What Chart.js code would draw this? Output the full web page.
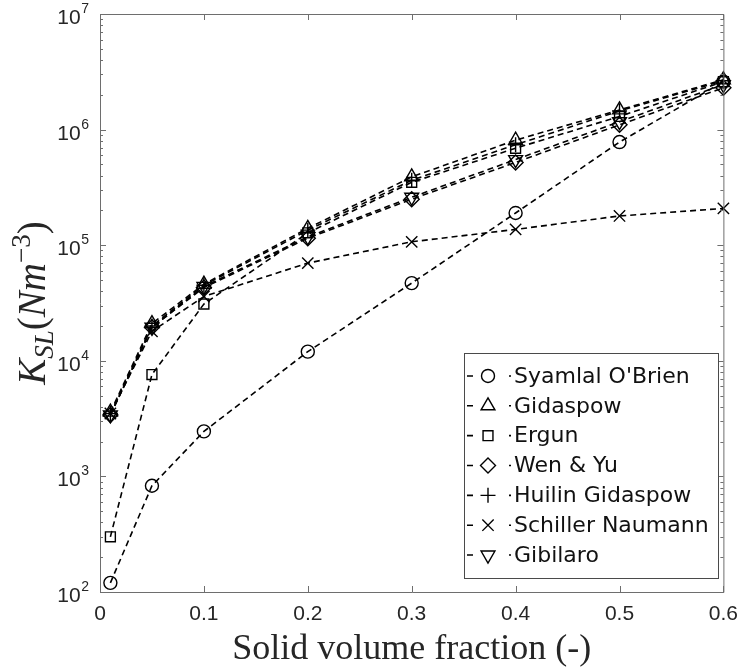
<!DOCTYPE html>
<html><head><meta charset="utf-8">
<script src="https://cdn.jsdelivr.net/npm/chart.js@4/dist/chart.umd.min.js"></script>
<style>html,body{margin:0;padding:0;background:#fff}#wrap{width:748px;height:672px;position:relative}</style>
</head><body><div id="wrap"><canvas id="c" width="748" height="672"></canvas></div>
<script>
// ---- data ----
const fractions = [0.01, 0.05, 0.1, 0.2, 0.3, 0.4, 0.5, 0.6];
const syamlalOBrien   = [120, 830, 2450, 12000, 47000, 190000, 780000, 2600000];
const gidaspow        = [3600, 21000, 46000, 140000, 390000, 810000, 1480000, 2700000];
const ergun           = [300, 7600, 31000, 128000, 350000, 690000, 1300000, 2600000];
const wenYu           = [3400, 19500, 43000, 115000, 250000, 520000, 1100000, 2300000];
const huilinGidaspow  = [3500, 20000, 45000, 135000, 365000, 740000, 1450000, 2650000];
const schillerNaumann = [3500, 18000, 36000, 70000, 107000, 137000, 179000, 208000];
const gibilaro        = [3400, 19500, 44000, 118000, 260000, 550000, 1170000, 2450000];
const seriesNames = ["Syamlal O'Brien", "Gidaspow", "Ergun", "Wen & Yu", "Huilin Gidaspow", "Schiller Naumann", "Gibilaro"];
const xTickValues = [0, 0.1, 0.2, 0.3, 0.4, 0.5, 0.6];
const xTickLabels = ["0", "0.1", "0.2", "0.3", "0.4", "0.5", "0.6"];
const yTickExponents = [2, 3, 4, 5, 6, 7];
const xTitle = "Solid volume fraction (-)";

// ---- styles ----
const seriesValues = [syamlalOBrien, gidaspow, ergun, wenYu, huilinGidaspow, schillerNaumann, gibilaro];
const markerStyles = [
  {pointStyle: 'circle', radius: 6.5, rotation: 0},
  {pointStyle: 'triangle', radius: 8, rotation: 0},
  {pointStyle: 'rect', radius: 7, rotation: 0},
  {pointStyle: 'rectRot', radius: 7.5, rotation: 0},
  {pointStyle: 'cross', radius: 7.5, rotation: 0},
  {pointStyle: 'crossRot', radius: 8, rotation: 0},
  {pointStyle: 'triangle', radius: 8, rotation: 180}
];
const AXIS = '#6e6e6e';
const TXT = '#262626';

const datasets = seriesValues.map((vals, i) => ({
  label: seriesNames[i],
  data: fractions.map((x, j) => ({x: x, y: vals[j]})),
  borderColor: '#000',
  borderWidth: 1.6,
  borderDash: [6, 4],
  pointStyle: markerStyles[i].pointStyle,
  pointRadius: markerStyles[i].radius,
  pointRotation: markerStyles[i].rotation,
  pointBorderWidth: 1.4,
  pointBorderColor: '#000',
  pointBackgroundColor: 'rgba(0,0,0,0)',
  fill: false,
  tension: 0,
  clip: false
}));

function drawMarker(ctx, st, x, y) {
  ctx.save();
  ctx.strokeStyle = '#000';
  ctx.fillStyle = 'rgba(0,0,0,0)';
  ctx.lineWidth = 1.4;
  ctx.setLineDash([]);
  Chart.helpers.drawPoint(ctx, {pointStyle: st.pointStyle, rotation: st.rotation, radius: st.radius, borderWidth: 1.4}, x, y);
  ctx.restore();
}

const matlabAxes = {
  id: 'matlabAxes',
  afterDraw(chart) {
    const ctx = chart.ctx;
    const a = chart.chartArea;
    const xs = chart.scales.x, ys = chart.scales.y;
    ctx.save();
    // box
    ctx.strokeStyle = AXIS;
    ctx.lineWidth = 1;
    ctx.beginPath();
    ctx.moveTo(a.left + 0.5, a.bottom + 0.5);
    ctx.lineTo(a.left + 0.5, a.top + 0.5);
    ctx.lineTo(a.right + 0.5, a.top + 0.5);
    ctx.lineTo(a.right + 0.5, a.bottom + 0.5);
    ctx.lineTo(a.left + 0.5, a.bottom + 0.5);
    ctx.stroke();
    // x ticks (inside, bottom and top)
    ctx.beginPath();
    xTickValues.forEach(v => {
      const px = Math.round(xs.getPixelForValue(v)) + 0.5;
      ctx.moveTo(px, a.bottom); ctx.lineTo(px, a.bottom - 6);
      ctx.moveTo(px, a.top); ctx.lineTo(px, a.top + 6);
    });
    // y major + minor ticks
    yTickExponents.forEach((e, k) => {
      const py = Math.round(ys.getPixelForValue(Math.pow(10, e))) + 0.5;
      ctx.moveTo(a.left, py); ctx.lineTo(a.left + 6, py);
      ctx.moveTo(a.right, py); ctx.lineTo(a.right - 6, py);
      if (k < yTickExponents.length - 1) {
        for (let m = 2; m <= 9; m++) {
          const pm = Math.round(ys.getPixelForValue(m * Math.pow(10, e))) + 0.5;
          ctx.moveTo(a.left, pm); ctx.lineTo(a.left + 3, pm);
          ctx.moveTo(a.right, pm); ctx.lineTo(a.right - 3, pm);
        }
      }
    });
    ctx.stroke();
    // y tick labels 10^e
    ctx.fillStyle = TXT;
    yTickExponents.forEach(e => {
      const py = ys.getPixelForValue(Math.pow(10, e));
      const expTxt = String(e);
      ctx.font = '14px "Liberation Sans", Arial, sans-serif';
      const wE = ctx.measureText(expTxt).width;
      ctx.font = '21px "Liberation Sans", Arial, sans-serif';
      const wB = ctx.measureText('10').width;
      const right = 89;
      ctx.textBaseline = 'alphabetic';
      ctx.textAlign = 'left';
      ctx.fillText('10', right - wE - wB - 0.5, py + 10);
      ctx.font = '14px "Liberation Sans", Arial, sans-serif';
      ctx.fillText(expTxt, right - wE, py - 1);
    });
    // y title K_SL(Nm^-3)
    const segs = [
      {t: 'K', f: 'italic 39px "Liberation Serif", serif', dy: 0},
      {t: 'SL', f: 'italic 27px "Liberation Serif", serif', dy: 8},
      {t: '(', f: '39px "Liberation Serif", serif', dy: 0},
      {t: 'Nm', f: 'italic 39px "Liberation Serif", serif', dy: 0},
      {t: '\u22123', f: '27px "Liberation Serif", serif', dy: -15},
      {t: ')', f: '39px "Liberation Serif", serif', dy: 0}
    ];
    let total = 0;
    segs.forEach(s => { ctx.font = s.f; s.w = ctx.measureText(s.t).width; total += s.w; });
    ctx.save();
    ctx.translate(45, (a.top + a.bottom) / 2);
    ctx.rotate(-Math.PI / 2);
    ctx.textBaseline = 'alphabetic';
    ctx.textAlign = 'left';
    let cx = -total / 2;
    segs.forEach(s => { ctx.font = s.f; ctx.fillText(s.t, cx, s.dy); cx += s.w; });
    ctx.restore();
    // legend
    const lx0 = 464, lx1 = 718, ly0 = 353, ly1 = 578;
    ctx.fillStyle = '#fff';
    ctx.fillRect(lx0, ly0, lx1 - lx0, ly1 - ly0);
    ctx.strokeStyle = '#4a4a4a';
    ctx.lineWidth = 1;
    ctx.strokeRect(lx0 + 0.5, ly0 + 0.5, lx1 - lx0, ly1 - ly0);
    const rowH = (ly1 - ly0 - 16) / seriesNames.length;
    seriesNames.forEach((name, i) => {
      const cy = ly0 + 8 + rowH * (i + 0.5);
      ctx.save();
      ctx.strokeStyle = '#000';
      ctx.lineWidth = 1.6;
      ctx.setLineDash([6, 36]);
      ctx.beginPath();
      ctx.moveTo(467, cy); ctx.lineTo(511, cy);
      ctx.stroke();
      ctx.restore();
      drawMarker(ctx, markerStyles[i], 488, cy);
      ctx.fillStyle = '#111';
      ctx.font = '22px "DejaVu Sans", sans-serif';
      ctx.textBaseline = 'middle';
      ctx.textAlign = 'left';
      ctx.fillText(name, 514, cy + 1);
    });
    ctx.restore();
  }
};

new Chart(document.getElementById('c'), {
  type: 'line',
  data: {datasets},
  options: {
    responsive: false,
    animation: false,
    devicePixelRatio: 1,
    events: [],
    layout: {padding: {left: 0, right: 17, top: 14, bottom: 0}},
    plugins: {legend: {display: false}, tooltip: {enabled: false}},
    scales: {
      x: {
        type: 'linear', min: 0, max: 0.6,
        afterBuildTicks: s => { s.ticks = xTickValues.map(v => ({value: v})); },
        afterFit: s => { s.height = 80; },
        ticks: {
          callback: (v, i) => xTickLabels[i],
          font: {family: '"Liberation Sans", Arial, sans-serif', size: 21},
          color: TXT, padding: 10, maxRotation: 0, autoSkip: false
        },
        grid: {display: false, drawTicks: false},
        border: {display: false},
        title: {display: true, text: xTitle, color: TXT,
          font: {family: '"Liberation Serif", serif', size: 36, weight: 'normal'},
          padding: {top: 0, bottom: 1}}
      },
      y: {
        type: 'logarithmic', min: 100, max: 1e7,
        afterBuildTicks: s => { s.ticks = yTickExponents.map(e => ({value: Math.pow(10, e), major: true})); },
        afterFit: s => { s.width = 100; },
        ticks: {display: false},
        grid: {display: false, drawTicks: false},
        border: {display: false}
      }
    }
  },
  plugins: [matlabAxes]
});
</script>
</body></html>
